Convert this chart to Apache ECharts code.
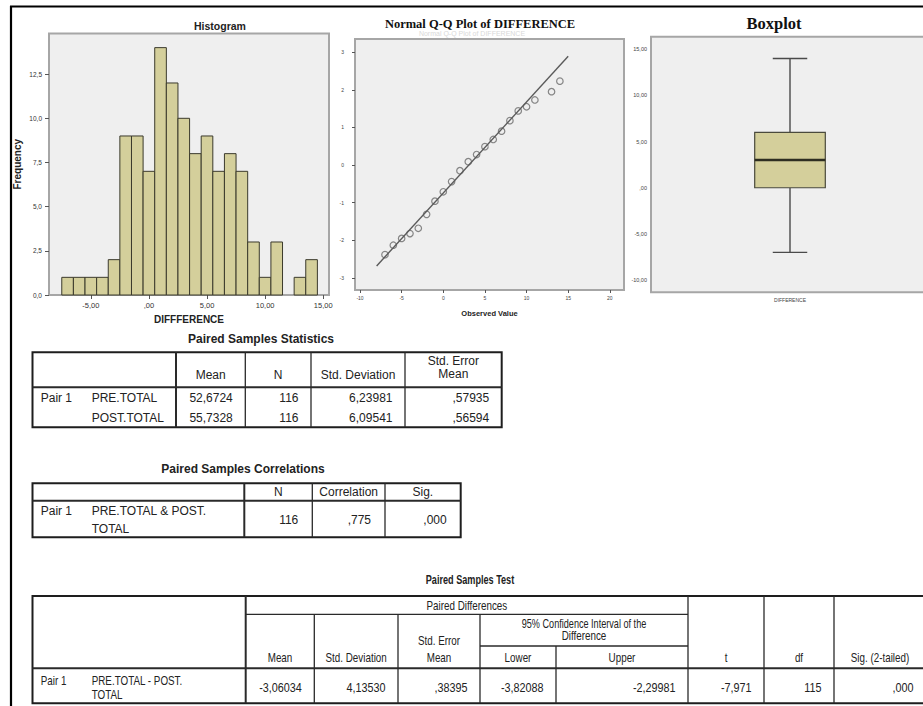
<!DOCTYPE html>
<html>
<head>
<meta charset="utf-8">
<script src="https://cdn.jsdelivr.net/npm/echarts@6/dist/echarts.min.js"></script>
<style>
  html, body { margin: 0; padding: 0; background: #ffffff; }
  #main { width: 923px; height: 706px; }
</style>
</head>
<body>
<div id="main"></div>
<script>
// ---------- Histogram of DIFFERENCE (bin centres, frequencies) ----------
const histBins    = [-7, -6, -5, -4, -3, -2, -1, 0, 1, 2, 3, 4, 5, 6, 7, 8, 9, 10, 11, 12, 13, 14];
const histCounts  = [ 1,  1,  1,  1,  2,  9,  9, 7, 14, 12, 10, 8, 9, 7, 8, 7, 3, 1, 3, 0, 1, 2];
const histBinWidth = 1;
const histXTicks  = [-5, 0, 5, 10, 15];
const histXLabels = ['-5,00', ',00', '5,00', '10,00', '15,00'];
const histYTicks  = [0, 2.5, 5, 7.5, 10, 12.5];
const histYLabels = ['0,0', '2,5', '5,0', '7,5', '10,0', '12,5'];

// ---------- Normal Q-Q plot ----------
const qqObserved = [-7, -6, -5, -4, -3, -2, -1, 0, 1, 2, 3, 4, 5, 6, 7, 8, 9, 10, 11, 13, 14];
const qqExpected = [-2.38, -2.13, -1.95, -1.82, -1.68, -1.31, -0.96, -0.71, -0.44, -0.15, 0.09,
                    0.28, 0.49, 0.68, 0.90, 1.18, 1.44, 1.55, 1.73, 1.95, 2.23];
const qqLineX  = [-8, 15];
const qqLineY  = [-2.68, 2.89];
const qqXTicks = [-10, -5, 0, 5, 10, 15, 20];
const qqYTicks = [-3, -2, -1, 0, 1, 2, 3];

// ---------- Boxplot ----------
const boxCategory = ['DIFFERENCE'];
const boxStats    = [-7, 0, 3, 6, 14];   // lower whisker, Q1, median, Q3, upper whisker
const boxYTicks   = [-10, -5, 0, 5, 10, 15];
const boxYLabels  = ['-10,00', '-5,00', ',00', '5,00', '10,00', '15,00'];

// ---------- Paired Samples Statistics ----------
const statsHeader   = ['Mean', 'N', 'Std. Deviation', 'Std. Error\nMean'];
const statsPair     = ['Pair 1', ''];
const statsVars     = ['PRE.TOTAL', 'POST.TOTAL'];
const statsMean     = ['52,6724', '55,7328'];
const statsN        = ['116', '116'];
const statsSD       = ['6,23981', '6,09541'];
const statsSE       = [',57935', ',56594'];

// ---------- Paired Samples Correlations ----------
const corrHeader = ['N', 'Correlation', 'Sig.'];
const corrLabel  = ['Pair 1', 'PRE.TOTAL & POST.', 'TOTAL'];
const corrValues = ['116', ',775', ',000'];

// ---------- Paired Samples Test ----------
const testLabel   = ['Pair 1', 'PRE.TOTAL - POST.', 'TOTAL'];
const testHeader  = ['Mean', 'Std. Deviation', 'Std. Error\nMean', 'Lower', 'Upper', 't', 'df', 'Sig. (2-tailed)'];
const testValues  = ['-3,06034', '4,13530', ',38395', '-3,82088', '-2,29981', '-7,971', '115', ',000'];

// ---------------------------------------------------------------------
const SANS  = '"Liberation Sans", Arial, sans-serif';
const SERIF = '"Liberation Serif", "Times New Roman", serif';
const INK   = '#222';

function pick(ticks, labels) {
  return function (v) {
    for (let i = 0; i < ticks.length; i++) {
      if (Math.abs(ticks[i] - v) < 1e-6) return labels[i];
    }
    return '';
  };
}

function txt(x, y, s, o) {
  o = o || {};
  return {
    type: 'text', x: x, y: y, scaleX: o.sx || 1, silent: true, z: 10,
    style: {
      text: s,
      font: (o.bold ? 'bold ' : '') + (o.size || 12) + 'px ' + (o.family || SANS),
      fill: o.color || INK,
      textAlign: o.align || 'left', align: o.align || 'left',
      textVerticalAlign: 'middle', verticalAlign: 'middle',
      lineHeight: o.lh || 13
    }
  };
}
function ln(x1, y1, x2, y2, w, c) {
  return { type: 'line', silent: true, z: 9,
    shape: { x1: x1, y1: y1, x2: x2, y2: y2 },
    style: { stroke: c || '#2a2a2a', lineWidth: w || 1 } };
}
function box(x1, y1, x2, y2, w) {
  return { type: 'rect', silent: true, z: 9,
    shape: { x: x1, y: y1, width: x2 - x1, height: y2 - y1 },
    style: { fill: 'none', stroke: '#1e1e1e', lineWidth: w || 2 } };
}

const graphics = [];

// page frame
graphics.push(ln(10, 6.5, 930, 6.5, 2.2, '#000'));
graphics.push(ln(11, 6, 11, 710, 2.2, '#000'));

// chart titles
graphics.push(txt(220, 26, 'Histogram', { bold: true, size: 10.5, align: 'center' }));
graphics.push(txt(472, 33, 'Normal Q-Q Plot of DIFFERENCE', { size: 7, align: 'center', color: '#d9d9d9' }));
graphics.push(txt(480, 24, 'Normal Q-Q Plot of DIFFERENCE', { bold: true, size: 12.5, align: 'center', family: SERIF, color: '#111' }));
graphics.push(txt(774, 23, 'Boxplot', { bold: true, size: 16.5, align: 'center', family: SERIF, color: '#111' }));

// ---- table 1: Paired Samples Statistics ----
(function () {
  const cx = [32.5, 176, 245.3, 311, 405, 501.7];
  const top = 352.3, mid = 387.3, bot = 427.3;
  graphics.push(txt(261, 338.5, 'Paired Samples Statistics', { bold: true, size: 12, align: 'center' }));
  graphics.push(box(cx[0], top, cx[5], bot, 2));
  graphics.push(ln(cx[1], top, cx[1], bot, 2));
  for (let i = 2; i < 5; i++) graphics.push(ln(cx[i], top, cx[i], bot, 1.3));
  graphics.push(ln(cx[0], mid, cx[5], mid, 2));
  for (let i = 0; i < statsHeader.length; i++) {
    const c = (cx[i + 1] + cx[i + 2]) / 2;
    const parts = statsHeader[i].split('\n');
    if (parts.length === 1) graphics.push(txt(c, 375, parts[0], { align: 'center' }));
    else { graphics.push(txt(c, 361, parts[0], { align: 'center' })); graphics.push(txt(c, 374, parts[1], { align: 'center' })); }
  }
  const cols = [statsMean, statsN, statsSD, statsSE];
  const rows = [397.5, 417.5];
  for (let r = 0; r < 2; r++) {
    if (statsPair[r]) graphics.push(txt(40.7, rows[r], statsPair[r]));
    graphics.push(txt(91.7, rows[r], statsVars[r]));
    for (let c = 0; c < cols.length; c++) graphics.push(txt(cx[c + 2] - 12.5, rows[r], cols[c][r], { align: 'right' }));
  }
})();

// ---- table 2: Paired Samples Correlations ----
(function () {
  const cx = [32.5, 244.3, 312.3, 385, 460.7];
  const top = 483.3, mid = 500.7, bot = 537.3;
  graphics.push(txt(243, 468.5, 'Paired Samples Correlations', { bold: true, size: 12, align: 'center' }));
  graphics.push(box(cx[0], top, cx[4], bot, 2));
  graphics.push(ln(cx[1], top, cx[1], bot, 2));
  for (let i = 2; i < 4; i++) graphics.push(ln(cx[i], top, cx[i], bot, 1.3));
  graphics.push(ln(cx[0], mid, cx[4], mid, 2));
  for (let i = 0; i < corrHeader.length; i++)
    graphics.push(txt((cx[i + 1] + cx[i + 2]) / 2, 492, corrHeader[i], { align: 'center' }));
  graphics.push(txt(40.7, 511, corrLabel[0]));
  graphics.push(txt(91.7, 511, corrLabel[1]));
  graphics.push(txt(91.7, 528.5, corrLabel[2]));
  for (let i = 0; i < corrValues.length; i++)
    graphics.push(txt(cx[i + 2] - 14, 520, corrValues[i], { align: 'right' }));
})();

// ---- table 3: Paired Samples Test ----
(function () {
  const cx = [32.5, 245.7, 314.3, 398, 480, 556, 688, 764, 834, 926];
  const top = 596, r1 = 614.3, r2 = 646, mid = 668.3, bot = 703.3;
  const SX = 0.82, SV = 0.9;
  graphics.push(txt(470, 579.5, 'Paired Samples Test', { bold: true, size: 12, align: 'center', sx: 0.76 }));
  graphics.push(box(cx[0], top, cx[9], bot, 2));
  graphics.push(ln(cx[1], top, cx[1], bot, 2));
  for (let i = 2; i <= 4; i++) graphics.push(ln(cx[i], r1, cx[i], bot, 1.3));
  graphics.push(ln(cx[5], r2, cx[5], bot, 1.3));
  for (let i = 6; i <= 8; i++) graphics.push(ln(cx[i], top, cx[i], bot, 1.3));
  graphics.push(ln(cx[1], r1, cx[6], r1, 1.3));
  graphics.push(ln(cx[4], r2, cx[6], r2, 1.3));
  graphics.push(ln(cx[0], mid, cx[9], mid, 2));
  graphics.push(txt((cx[1] + cx[6]) / 2, 605.5, 'Paired Differences', { align: 'center', sx: SX }));
  graphics.push(txt((cx[4] + cx[6]) / 2, 623, '95% Confidence Interval of the', { align: 'center', sx: 0.76 }));
  graphics.push(txt((cx[4] + cx[6]) / 2, 636, 'Difference', { align: 'center', sx: SX }));
  for (let i = 0; i < testHeader.length; i++) {
    const c = (cx[i + 1] + cx[i + 2]) / 2;
    const parts = testHeader[i].split('\n');
    if (parts.length === 1) graphics.push(txt(c, 658, parts[0], { align: 'center', sx: SX }));
    else { graphics.push(txt(c, 641, parts[0], { align: 'center', sx: SX })); graphics.push(txt(c, 658, parts[1], { align: 'center', sx: SX })); }
  }
  graphics.push(txt(40.7, 681, testLabel[0], { sx: SX }));
  graphics.push(txt(91.7, 681, testLabel[1], { sx: SX }));
  graphics.push(txt(91.7, 694.5, testLabel[2], { sx: SX }));
  for (let i = 0; i < testValues.length; i++)
    graphics.push(txt(cx[i + 2] - 12.5, 687.5, testValues[i], { align: 'right', sx: SV }));
})();

// ---------------------------------------------------------------------
const gridStyle = { show: true, backgroundColor: '#efefef', borderColor: '#a6a6a6', borderWidth: 2, outerBoundsMode: 'none', containLabel: false };
const tickStyle = { lineStyle: { color: '#555', width: 1 } };
const hiddenLine = { show: false, onZero: false };

const chart = echarts.init(document.getElementById('main'), null, { renderer: 'svg', width: 923, height: 706 });

chart.setOption({
  animation: false,
  backgroundColor: '#ffffff',
  textStyle: { fontFamily: SANS },
  graphic: { elements: graphics },
  grid: [
    Object.assign({ left: 49, top: 33.5, width: 280, height: 261.5 }, gridStyle),
    Object.assign({ left: 355, top: 39, width: 269, height: 251 }, gridStyle),
    Object.assign({ left: 651, top: 36.7, width: 278, height: 255.6 }, gridStyle)
  ],
  xAxis: [
    { gridIndex: 0, type: 'value', min: -8.6, max: 15.5, position: 'bottom',
      axisLine: hiddenLine, splitLine: { show: false },
      axisTick: Object.assign({ customValues: histXTicks, length: 4 }, tickStyle),
      axisLabel: { customValues: histXTicks, formatter: pick(histXTicks, histXLabels), fontSize: 7.5, color: '#333', margin: 6 },
      name: 'DIFFFERENCE', nameLocation: 'middle', nameGap: 19,
      nameTextStyle: { fontWeight: 'bold', fontSize: 10, color: INK, fontFamily: SANS } },
    { gridIndex: 1, type: 'value', min: -10.6, max: 21.7, position: 'bottom',
      axisLine: hiddenLine, splitLine: { show: false },
      axisTick: Object.assign({ customValues: qqXTicks, length: 3 }, tickStyle),
      axisLabel: { customValues: qqXTicks, fontSize: 5, color: '#444', margin: 5 },
      name: 'Observed Value', nameLocation: 'middle', nameGap: 19,
      nameTextStyle: { fontWeight: 'bold', fontSize: 7.5, color: INK, fontFamily: SANS } },
    { gridIndex: 2, type: 'category', data: boxCategory, boundaryGap: true, position: 'bottom',
      axisLine: hiddenLine, splitLine: { show: false },
      axisTick: Object.assign({ alignWithLabel: true, length: 3 }, tickStyle),
      axisLabel: { fontSize: 5, color: '#444', margin: 5 } }
  ],
  yAxis: [
    { gridIndex: 0, type: 'value', min: 0, max: 14.8, position: 'left',
      axisLine: hiddenLine, splitLine: { show: false },
      axisTick: Object.assign({ customValues: histYTicks, length: 4 }, tickStyle),
      axisLabel: { customValues: histYTicks, formatter: pick(histYTicks, histYLabels), fontSize: 6.5, color: '#333', margin: 7 },
      name: 'Frequency', nameLocation: 'middle', nameGap: 27,
      nameTextStyle: { fontWeight: 'bold', fontSize: 10, color: INK, fontFamily: SANS } },
    { gridIndex: 1, type: 'value', min: -3.32, max: 3.35, position: 'left',
      axisLine: hiddenLine, splitLine: { show: false },
      axisTick: Object.assign({ customValues: qqYTicks, length: 3 }, tickStyle),
      axisLabel: { customValues: qqYTicks, fontSize: 5, color: '#444', margin: 11 } },
    { gridIndex: 2, type: 'value', min: -11.33, max: 16.37, position: 'left',
      axisLine: hiddenLine, splitLine: { show: false },
      axisTick: Object.assign({ customValues: boxYTicks, length: 3 }, tickStyle),
      axisLabel: { customValues: boxYTicks, formatter: pick(boxYTicks, boxYLabels), fontSize: 5.5, color: '#444', margin: 4 } }
  ],
  series: [
    { // histogram bars
      type: 'custom', xAxisIndex: 0, yAxisIndex: 0,
      data: histBins.map((b, i) => [b, histCounts[i]]),
      renderItem: function (params, api) {
        const x = api.value(0), c = api.value(1);
        if (!c) return null;
        const p0 = api.coord([x - histBinWidth / 2, c]);
        const p1 = api.coord([x + histBinWidth / 2, 0]);
        return { type: 'rect',
          shape: { x: p0[0], y: p0[1], width: p1[0] - p0[0], height: p1[1] - p0[1] },
          style: { fill: '#d4cf9b', stroke: '#3b3a2c', lineWidth: 1 } };
      }
    },
    { // expected normal reference line
      type: 'line', xAxisIndex: 1, yAxisIndex: 1, showSymbol: false, silent: true,
      data: qqLineX.map((x, i) => [x, qqLineY[i]]),
      lineStyle: { color: '#5a5a5a', width: 1.4 }
    },
    { // observed quantiles
      type: 'scatter', xAxisIndex: 1, yAxisIndex: 1, symbol: 'circle', symbolSize: 6.5, silent: true,
      data: qqObserved.map((x, i) => [x, qqExpected[i]]),
      itemStyle: { color: 'rgba(0,0,0,0)', borderColor: '#6a6a6a', borderWidth: 1.2 }
    },
    { // boxplot
      type: 'custom', xAxisIndex: 2, yAxisIndex: 2,
      data: [[0].concat(boxStats)],
      renderItem: function (params, api) {
        const cat = api.value(0);
        const band = api.size([1, 0])[0];
        const y = k => api.coord([cat, api.value(k)])[1];
        const cx = api.coord([cat, api.value(3)])[0];
        const hw = band * 0.127, cw = band * 0.062;
        const lo = y(1), q1 = y(2), md = y(3), q3 = y(4), hi = y(5);
        const stroke = { stroke: '#4a4a4a', lineWidth: 1.4 };
        return { type: 'group', children: [
          { type: 'line', shape: { x1: cx, y1: hi, x2: cx, y2: q3 }, style: stroke },
          { type: 'line', shape: { x1: cx, y1: q1, x2: cx, y2: lo }, style: stroke },
          { type: 'line', shape: { x1: cx - cw, y1: hi, x2: cx + cw, y2: hi }, style: stroke },
          { type: 'line', shape: { x1: cx - cw, y1: lo, x2: cx + cw, y2: lo }, style: stroke },
          { type: 'rect', shape: { x: cx - hw, y: q3, width: 2 * hw, height: q1 - q3 },
            style: { fill: '#d4cf9b', stroke: '#4a4a3c', lineWidth: 1.2 } },
          { type: 'line', shape: { x1: cx - hw, y1: md, x2: cx + hw, y2: md },
            style: { stroke: '#2e2e22', lineWidth: 2.4 } }
        ] };
      }
    }
  ]
});
</script>
</body>
</html>
